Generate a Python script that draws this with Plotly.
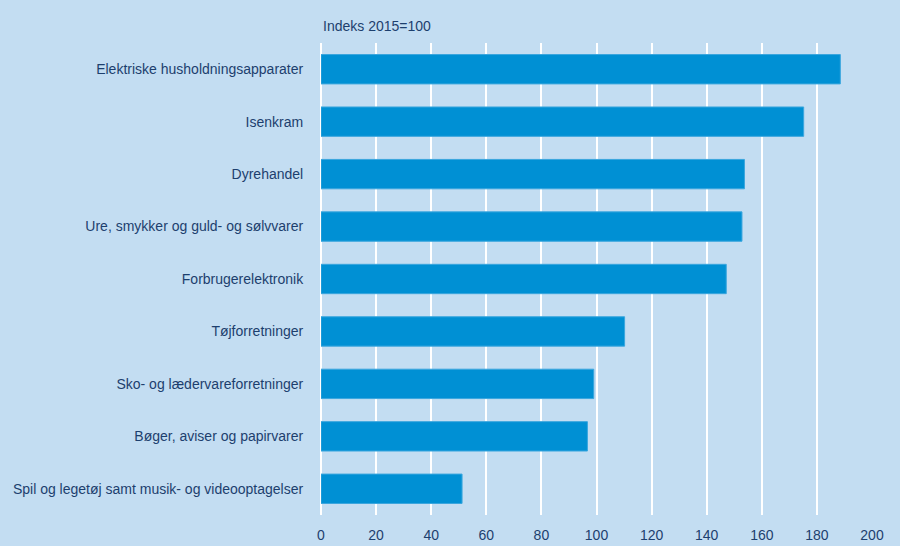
import plotly.graph_objects as go

categories = [
    "Elektriske husholdningsapparater",
    "Isenkram",
    "Dyrehandel",
    "Ure, smykker og guld- og sølvvarer",
    "Forbrugerelektronik",
    "Tøjforretninger",
    "Sko- og lædervareforretninger",
    "Bøger, aviser og papirvarer",
    "Spil og legetøj samt musik- og videooptagelser",
]
values = [188.5, 175.2, 153.7, 152.8, 147.1, 110.2, 99.0, 96.7, 51.2]
x_ticks = [0, 20, 40, 60, 80, 100, 120, 140, 160, 180, 200]

bg = "#c3ddf2"
txt = "#1d3f6e"
font_fam = "Liberation Sans Narrow, Arial Narrow, Liberation Sans, sans-serif"

fig = go.Figure(go.Bar(
    y=categories,
    x=values,
    orientation="h",
    marker=dict(color="#0090d4", line=dict(color="#3aa6de", width=1)),
    width=0.56,
))

fig.update_layout(
    paper_bgcolor=bg, plot_bgcolor=bg,
    margin=dict(l=321, r=28, t=43, b=31, autoexpand=False),
    font=dict(family=font_fam, size=14, color=txt),
    showlegend=False,
    annotations=[dict(
        text="Indeks 2015=100", x=0, xref="paper", xanchor="left",
        y=1, yref="paper", yanchor="bottom", yshift=7,
        showarrow=False, font=dict(size=14, color=txt),
    )],
)
fig.update_xaxes(
    range=[0, 200], tickvals=x_ticks, showgrid=True, gridcolor="white",
    gridwidth=2, zeroline=True, zerolinecolor="white", zerolinewidth=2,
    showline=False, ticks="outside", ticklen=7, tickcolor="rgba(0,0,0,0)",
    tickfont=dict(size=14, color=txt), automargin=False,
)
fig.update_yaxes(
    categoryorder="array", categoryarray=categories, autorange="reversed",
    showgrid=False, ticks="outside", ticklen=14, tickcolor="rgba(0,0,0,0)",
    tickfont=dict(size=14, color=txt), automargin=False,
)

fig.write_html("out.html", default_width="100vw", default_height="100vh",
               config={"displayModeBar": False},
               post_script="document.body.style.margin='0';")
